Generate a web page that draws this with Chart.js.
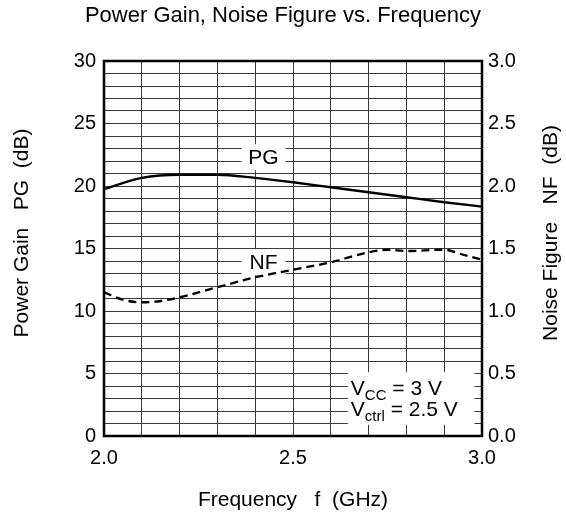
<!DOCTYPE html>
<html>
<head>
<meta charset="utf-8">
<script src="https://cdn.jsdelivr.net/npm/chart.js@4.4.1/dist/chart.umd.min.js"></script>
<style>
  html, body { margin: 0; padding: 0; background: #fff; }
  #wrap { width: 566px; height: 522px; position: relative; }
</style>
</head>
<body>
<div id="wrap"><canvas id="chart"></canvas></div>
<script>
// --- Données ---
const freqPG = [2.0, 2.1, 2.2, 2.3, 2.4, 2.5, 2.6, 2.7, 2.8, 2.9, 3.0];
const powerGain = [19.75, 20.65, 20.9, 20.9, 20.65, 20.3, 19.9, 19.5, 19.1, 18.7, 18.35];

const freqNF = [2.0, 2.05, 2.1, 2.15, 2.2, 2.3, 2.4, 2.5, 2.6, 2.7, 2.75, 2.8, 2.9, 2.95, 3.0];
const noiseFigure = [1.15, 1.09, 1.07, 1.08, 1.11, 1.19, 1.27, 1.33, 1.39, 1.47, 1.49, 1.48, 1.49, 1.45, 1.41];

const xLabels = [2.0, 2.5, 3.0];
const pgLabels = [0, 5, 10, 15, 20, 25, 30];
const nfLabels = [0, 0.5, 1.0, 1.5, 2.0, 2.5, 3.0];

const FONT = "'Liberation Sans', Arial, sans-serif";
const FS = 20;      // graduations
const FT = 21;      // titres d'axes et étiquettes

// --- Étiquettes PG / NF et encadré (sous les courbes), puis cadre et titres ---
const decor = {
  id: "decor",
  beforeDatasetsDraw(chart) {
    const { ctx, scales } = chart;
    const x = scales.x, y = scales.y;

    function tag(text, fx, fy, w, h) {
      const cx = x.getPixelForValue(fx), cy = y.getPixelForValue(fy);
      ctx.fillStyle = "#fff";
      ctx.fillRect(cx - w / 2, cy - h / 2, w, h);
      ctx.fillStyle = "#000";
      ctx.font = FT + "px " + FONT;
      ctx.textAlign = "center";
      ctx.textBaseline = "middle";
      ctx.fillText(text, cx, cy + 1);
    }
    tag("PG", 2.422, 22.3, 44, 26);
    tag("NF", 2.422, 13.9, 44, 26);

    // encadré VCC / Vctrl
    const bx0 = x.getPixelForValue(2.645), bx1 = x.getPixelForValue(2.98);
    const by0 = y.getPixelForValue(5.1), by1 = y.getPixelForValue(0.9);
    ctx.fillStyle = "#fff";
    ctx.fillRect(bx0, by0, bx1 - bx0, by1 - by0);
    ctx.fillStyle = "#000";
    ctx.textAlign = "left";
    ctx.textBaseline = "alphabetic";
    function sub(base, s, rest, tx, ty) {
      ctx.font = FT + "px " + FONT;
      ctx.fillText(base, tx, ty);
      tx += ctx.measureText(base).width;
      ctx.font = "15px " + FONT;
      ctx.fillText(s, tx, ty + 5);
      tx += ctx.measureText(s).width;
      ctx.font = FT + "px " + FONT;
      ctx.fillText(rest, tx, ty);
    }
    sub("V", "CC", " = 3 V", bx0 + 3, by0 + 23);
    sub("V", "ctrl", " = 2.5 V", bx0 + 3, by0 + 44);
  },
  afterDatasetsDraw(chart) {
    const { ctx, chartArea: a } = chart;
    const midX = (a.left + a.right) / 2;

    // cadre
    ctx.strokeStyle = "#000";
    ctx.lineWidth = 2.5;
    ctx.strokeRect(a.left, a.top, a.right - a.left, a.bottom - a.top);

    // titres
    ctx.fillStyle = "#000";
    ctx.textBaseline = "middle";
    ctx.textAlign = "center";
    ctx.font = "22px " + FONT;
    ctx.fillText("Power Gain, Noise Figure vs. Frequency", 283, 16);
    ctx.font = FT + "px " + FONT;
    ctx.fillText("Frequency   f  (GHz)", midX, 500);
    ctx.save();
    ctx.translate(22, 233);
    ctx.rotate(-Math.PI / 2);
    ctx.fillText("Power Gain   PG  (dB)", 0, 0);
    ctx.restore();
    ctx.save();
    ctx.translate(551, 233);
    ctx.rotate(-Math.PI / 2);
    ctx.fillText("Noise Figure   NF  (dB)", 0, 0);
    ctx.restore();
  }
};

const tickFont = { family: FONT, size: FS };

new Chart(document.getElementById("chart"), {
  type: "line",
  data: {
    datasets: [
      {
        label: "PG",
        data: freqPG.map((f, i) => ({ x: f, y: powerGain[i] })),
        yAxisID: "y",
        borderColor: "#000",
        borderWidth: 2.3,
        pointRadius: 0,
        cubicInterpolationMode: "monotone",
        fill: false
      },
      {
        label: "NF",
        data: freqNF.map((f, i) => ({ x: f, y: noiseFigure[i] })),
        yAxisID: "y2",
        borderColor: "#000",
        borderWidth: 2.3,
        borderDash: [8, 5],
        pointRadius: 0,
        cubicInterpolationMode: "monotone",
        fill: false
      }
    ]
  },
  options: {
    responsive: true,
    maintainAspectRatio: false,
    animation: false,
    layout: { padding: { top: 61, left: 0, right: 0, bottom: 0 } },
    plugins: {
      legend: { display: false },
      tooltip: { enabled: false },
      title: { display: false }
    },
    scales: {
      x: {
        type: "linear",
        min: 2.0,
        max: 3.0,
        afterFit: s => { s.height = 86; },
        grid: { color: "#3a3a3a", lineWidth: 1, drawTicks: false },
        border: { display: false },
        ticks: {
          stepSize: 0.1,
          autoSkip: false,
          maxRotation: 0,
          padding: 10,
          color: "#000",
          font: tickFont,
          callback: v => xLabels.some(l => Math.abs(l - v) < 1e-6) ? v.toFixed(1) : ""
        }
      },
      y: {
        position: "left",
        min: 0,
        max: 30,
        afterFit: s => { s.width = 104; },
        grid: { color: "#3a3a3a", lineWidth: 1, drawTicks: false },
        border: { display: false },
        ticks: {
          stepSize: 1,
          autoSkip: false,
          padding: 8,
          color: "#000",
          font: tickFont,
          callback: v => pgLabels.includes(v) ? String(v) : ""
        }
      },
      y2: {
        position: "right",
        min: 0,
        max: 3,
        afterFit: s => { s.width = 84; },
        grid: { display: false, drawTicks: false },
        border: { display: false },
        ticks: {
          stepSize: 0.5,
          padding: 6,
          color: "#000",
          font: tickFont,
          callback: v => nfLabels.some(l => Math.abs(l - v) < 1e-6) ? v.toFixed(1) : ""
        }
      }
    }
  },
  plugins: [decor]
});
</script>
</body>
</html>
